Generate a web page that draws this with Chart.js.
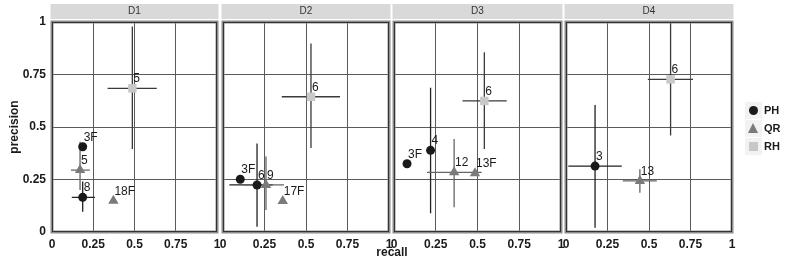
<!DOCTYPE html>
<html>
<head>
<meta charset="utf-8">
<script src="https://cdn.jsdelivr.net/npm/chart.js@4.4.1/dist/chart.umd.min.js"></script>
<style>
  body { margin: 0; background: #fff; }
  #wrap { position: relative; width: 787px; height: 268px; font-family: 'Liberation Sans', Arial, sans-serif; }
  #wrap canvas { position: absolute; left: 0; top: 0; }
  .xtitle { position: absolute; left: 352px; width: 80px; top: 245px; text-align: center; font-weight: bold; font-size: 12px; color: #1a1a1a; }
  .leg { position: absolute; left: 745px; width: 60px; height: 18px; font-weight: bold; font-size: 11px; color: #1a1a1a; }
  .leg .key { position: absolute; left: 0; top: 0; width: 17px; height: 17px; background: #f2f2f2; }
  .leg span { position: absolute; left: 19px; top: 2px; }
  .dot { position: absolute; left: 4px; top: 4px; width: 9px; height: 9px; border-radius: 50%; background: #1a1a1a; }
  .tri { position: absolute; left: 3px; top: 3px; width: 0; height: 0; border-left: 5.5px solid transparent; border-right: 5.5px solid transparent; border-bottom: 10px solid #7a7a7a; }
  .sq { position: absolute; left: 4px; top: 4px; width: 9px; height: 9px; background: #c8c8c8; }
</style>
</head>
<body>
<div id="wrap">
  <canvas id="c0" width="787" height="268"></canvas>
  <canvas id="c1" width="787" height="268"></canvas>
  <canvas id="c2" width="787" height="268"></canvas>
  <canvas id="c3" width="787" height="268"></canvas>
  <div class="xtitle">recall</div>
  <div class="leg" style="top:102px"><div class="key"><div class="dot"></div></div><span>PH</span></div>
  <div class="leg" style="top:120px"><div class="key"><div class="tri"></div></div><span>QR</span></div>
  <div class="leg" style="top:138px"><div class="key"><div class="sq"></div></div><span>RH</span></div>
</div>
<script>
const panelNames = ['D1', 'D2', 'D3', 'D4'];
const seriesNames = ['PH', 'QR', 'RH'];
const tickLabels = ['0', '0.25', '0.5', '0.75', '1'];

// one list per panel: recall (x), precision (y), point label, optional bar ranges
const phPoints = [
  [{ x: 0.186, y: 0.406, n: '3F' }, { x: 0.186, y: 0.165, n: '8', xr: [0.12, 0.26], yr: [0.097, 0.24] }],
  [{ x: 0.104, y: 0.251, n: '3F' }, { x: 0.205, y: 0.224, n: '6', xr: [0.038, 0.30], yr: [0.025, 0.422] }],
  [{ x: 0.078, y: 0.325, n: '3F' }, { x: 0.219, y: 0.389, n: '4', yr: [0.089, 0.687] }],
  [{ x: 0.175, y: 0.314, n: '3', xr: [0.014, 0.336], yr: [0.02, 0.605] }]
];
const qrPoints = [
  [{ x: 0.17, y: 0.295, n: '5', xr: [0.115, 0.23], yr: [0.2, 0.43] }, { x: 0.372, y: 0.149, n: '18F' }],
  [{ x: 0.259, y: 0.224, n: '9', xr: [0.122, 0.367], yr: [0.105, 0.359] }, { x: 0.36, y: 0.148, n: '17F' }],
  [{ x: 0.36, y: 0.284, n: '12', xr: [0.198, 0.525], yr: [0.118, 0.443] }, { x: 0.485, y: 0.28, n: '13F' }],
  [{ x: 0.445, y: 0.243, n: '13', xr: [0.342, 0.547], yr: [0.187, 0.299] }]
];
const rhPoints = [
  [{ x: 0.487, y: 0.684, n: '5', xr: [0.337, 0.635], yr: [0.395, 0.978] }],
  [{ x: 0.53, y: 0.644, n: '6', xr: [0.354, 0.705], yr: [0.40, 0.898] }],
  [{ x: 0.541, y: 0.624, n: '6', xr: [0.41, 0.675], yr: [0.395, 0.856] }],
  [{ x: 0.63, y: 0.727, n: '6', xr: [0.493, 0.765], yr: [0.459, 1.0] }]
];

// panel plot areas in page pixels
const areaLeft = [52, 223, 394, 566];
const areaRight = [217, 389, 561, 732];
const areaTop = 22;
const areaBottom = 232;

const FONT = "'Liberation Sans', Arial, sans-serif";
const barColors = ['#222', '#666', '#3a3a3a'];

const facetPlugin = {
    id: 'facet',
    beforeDatasetsDraw(chart, args, opts) {
        const ctx = chart.ctx;
        const xs = chart.scales.x, ys = chart.scales.y;
        ctx.save();
        chart.data.datasets.forEach((ds, i) => {
            ctx.strokeStyle = barColors[i];
            ctx.lineWidth = 1.3;
            ds.data.forEach(p => {
                const px = xs.getPixelForValue(p.x), py = ys.getPixelForValue(p.y);
                ctx.beginPath();
                if (p.xr) {
                    ctx.moveTo(xs.getPixelForValue(p.xr[0]), py);
                    ctx.lineTo(xs.getPixelForValue(p.xr[1]), py);
                }
                if (p.yr) {
                    ctx.moveTo(px, ys.getPixelForValue(p.yr[0]));
                    ctx.lineTo(px, ys.getPixelForValue(p.yr[1]));
                }
                ctx.stroke();
            });
        });
        ctx.restore();
    },
    afterDraw(chart, args, opts) {
        const ctx = chart.ctx;
        const a = chart.chartArea;
        const xs = chart.scales.x, ys = chart.scales.y;
        ctx.save();
        // point labels
        ctx.font = '12px ' + FONT;
        ctx.fillStyle = '#1a1a1a';
        ctx.textAlign = 'left';
        ctx.textBaseline = 'alphabetic';
        chart.data.datasets.forEach(ds => {
            ds.data.forEach(p => {
                ctx.fillText(p.n, xs.getPixelForValue(p.x) + 1, ys.getPixelForValue(p.y) - 6);
            });
        });
        // panel border
        ctx.strokeStyle = '#8c8c8c';
        ctx.lineWidth = 3;
        ctx.strokeRect(a.left, a.top, a.right - a.left, a.bottom - a.top);
        ctx.strokeStyle = '#333';
        ctx.lineWidth = 1;
        ctx.strokeRect(a.left + 0.5, a.top + 0.5, a.right - a.left - 1, a.bottom - a.top - 1);
        // strip header
        ctx.fillStyle = '#d9d9d9';
        ctx.fillRect(a.left - 1.5, 4, a.right - a.left + 3, 15);
        ctx.fillStyle = '#333';
        ctx.font = '10px ' + FONT;
        ctx.textAlign = 'center';
        ctx.textBaseline = 'middle';
        ctx.fillText(opts.name, (a.left + a.right) / 2, 11.5);
        ctx.restore();
    }
};

const tickText = (v, i) => tickLabels[i];

panelNames.forEach((name, k) => {
    const first = k === 0;
    const yWidth = first ? 52 : 0;
    new Chart(document.getElementById('c' + k), {
        type: 'scatter',
        data: {
            datasets: [
                { label: seriesNames[0], data: phPoints[k], pointStyle: 'circle', pointRadius: 4.5, backgroundColor: '#1a1a1a', borderWidth: 0 },
                { label: seriesNames[1], data: qrPoints[k], pointStyle: 'triangle', pointRadius: 6, backgroundColor: '#7a7a7a', borderWidth: 0 },
                { label: seriesNames[2], data: rhPoints[k], pointStyle: 'rect', pointRadius: 6, backgroundColor: '#c8c8c8', borderWidth: 0 }
            ]
        },
        options: {
            responsive: false,
            animation: false,
            events: [],
            layout: {
                padding: { left: areaLeft[k] - yWidth, right: 787 - areaRight[k], top: areaTop, bottom: 0 }
            },
            plugins: {
                legend: { display: false },
                tooltip: { enabled: false },
                facet: { name: name }
            },
            scales: {
                x: {
                    type: 'linear', min: 0, max: 1,
                    afterFit: s => { s.height = 268 - areaBottom; },
                    ticks: { stepSize: 0.25, autoSkip: false, maxRotation: 0, padding: 5, callback: tickText, color: '#1a1a1a', font: { family: FONT, size: 12, weight: 'bold' } },
                    grid: { color: '#5a5a5a', lineWidth: 1, drawTicks: false },
                    border: { display: false }
                },
                y: {
                    type: 'linear', min: 0, max: 1,
                    afterFit: s => { s.width = yWidth; },
                    title: { display: first, text: 'precision', color: '#1a1a1a', padding: { top: 7, bottom: 0 }, font: { family: FONT, size: 12, weight: 'bold' } },
                    ticks: { display: first, stepSize: 0.25, padding: 6, callback: tickText, color: '#1a1a1a', font: { family: FONT, size: 12, weight: 'bold' } },
                    grid: { color: '#5a5a5a', lineWidth: 1, drawTicks: false },
                    border: { display: false }
                }
            }
        },
        plugins: [facetPlugin]
    });
});
</script>
</body>
</html>
